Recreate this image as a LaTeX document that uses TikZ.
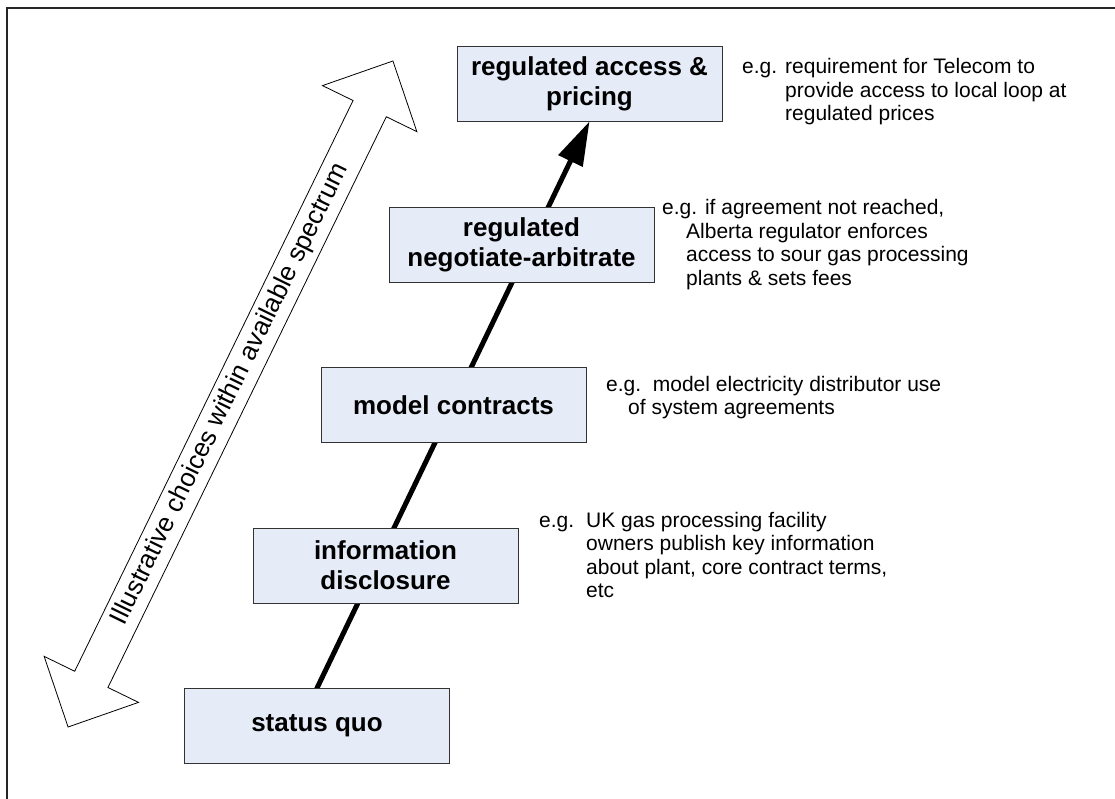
\documentclass[tikz,border=0pt]{standalone}
\usepackage{fontspec}
\setmainfont{Liberation Sans}
\usetikzlibrary{arrows.meta,backgrounds}
\definecolor{boxfill}{RGB}{229,235,247}
\definecolor{boxdraw}{RGB}{50,50,50}
\begin{document}
\begin{tikzpicture}[x=1pt,y=-1pt,
  stagebox/.style={draw=boxdraw, line width=0.8pt, fill=boxfill, minimum width=265pt,
    minimum height=75pt, inner sep=0pt, align=center,
    font=\fontsize{26}{30}\selectfont\bfseries},
  note/.style={anchor=base west, inner sep=0pt, align=left,
    font=\fontsize{21}{23.5}\selectfont},
  spanarrow/.style={draw=black, line width=0.8pt, fill=white},
  mainline/.style={line width=5pt, -{Triangle[length=44pt,width=26pt]}}
]
\useasboundingbox (0,0) rectangle (1115,799);
\draw[line width=1.2pt, color=black!85] (7,799) -- (7,8) -- (1115,8);

% stage boxes
\node[stagebox] (access) at (589.5,83.5) {regulated access \&\\pricing};
\node[stagebox] (negot)  at (521.5,244.5) {regulated\\negotiate-arbitrate};
\node[stagebox] (model)  at (453.5,405) {model contracts};
\node[stagebox] (info)   at (385.5,565.5) {information\\disclosure};
\node[stagebox] (status) at (317,726) {status quo};

% main arrow behind boxes
\begin{scope}[on background layer]
  \draw[mainline, shorten <=-8pt] (status.north) -- (access.south);
\end{scope}

% double block arrow
\begin{scope}[shift={(230.5,394)}, rotate=64]
  \draw[spanarrow] (370.5,0) -- (317.5,52.5) -- (317.5,18.5) -- (-317.5,18.5)
    -- (-317.5,52.5) -- (-370.5,0) -- (-317.5,-52.5) -- (-317.5,-18.5)
    -- (317.5,-18.5) -- (317.5,-52.5) -- cycle;
\end{scope}
\node[rotate=64, font=\fontsize{26}{30}\selectfont, inner sep=0pt] (spectrum) at (230.5,394)
  {Illustrative choices within available spectrum};

% notes (anchor = baseline of last line)
\node[note] (n1) at (742,121) {\makebox[43pt][l]{e.g.}requirement for Telecom to\\
  \hspace*{43pt}provide access to local loop at\\
  \hspace*{43pt}regulated prices};
\node[note] (n2) at (662,285.5) {e.g. if agreement not reached,\\
  \hspace*{24pt}Alberta regulator enforces\\
  \hspace*{24pt}access to sour gas processing\\
  \hspace*{24pt}plants \& sets fees};
\node[note] (n3) at (606,414.5) {e.g.\ \ model electricity distributor use\\
  \hspace*{22pt}of system agreements};
\node[note] (n4) at (539,597.5) {\makebox[47pt][l]{e.g.}UK gas processing facility\\
  \hspace*{47pt}owners publish key information\\
  \hspace*{47pt}about plant, core contract terms,\\
  \hspace*{47pt}etc};
\end{tikzpicture}
\end{document}
